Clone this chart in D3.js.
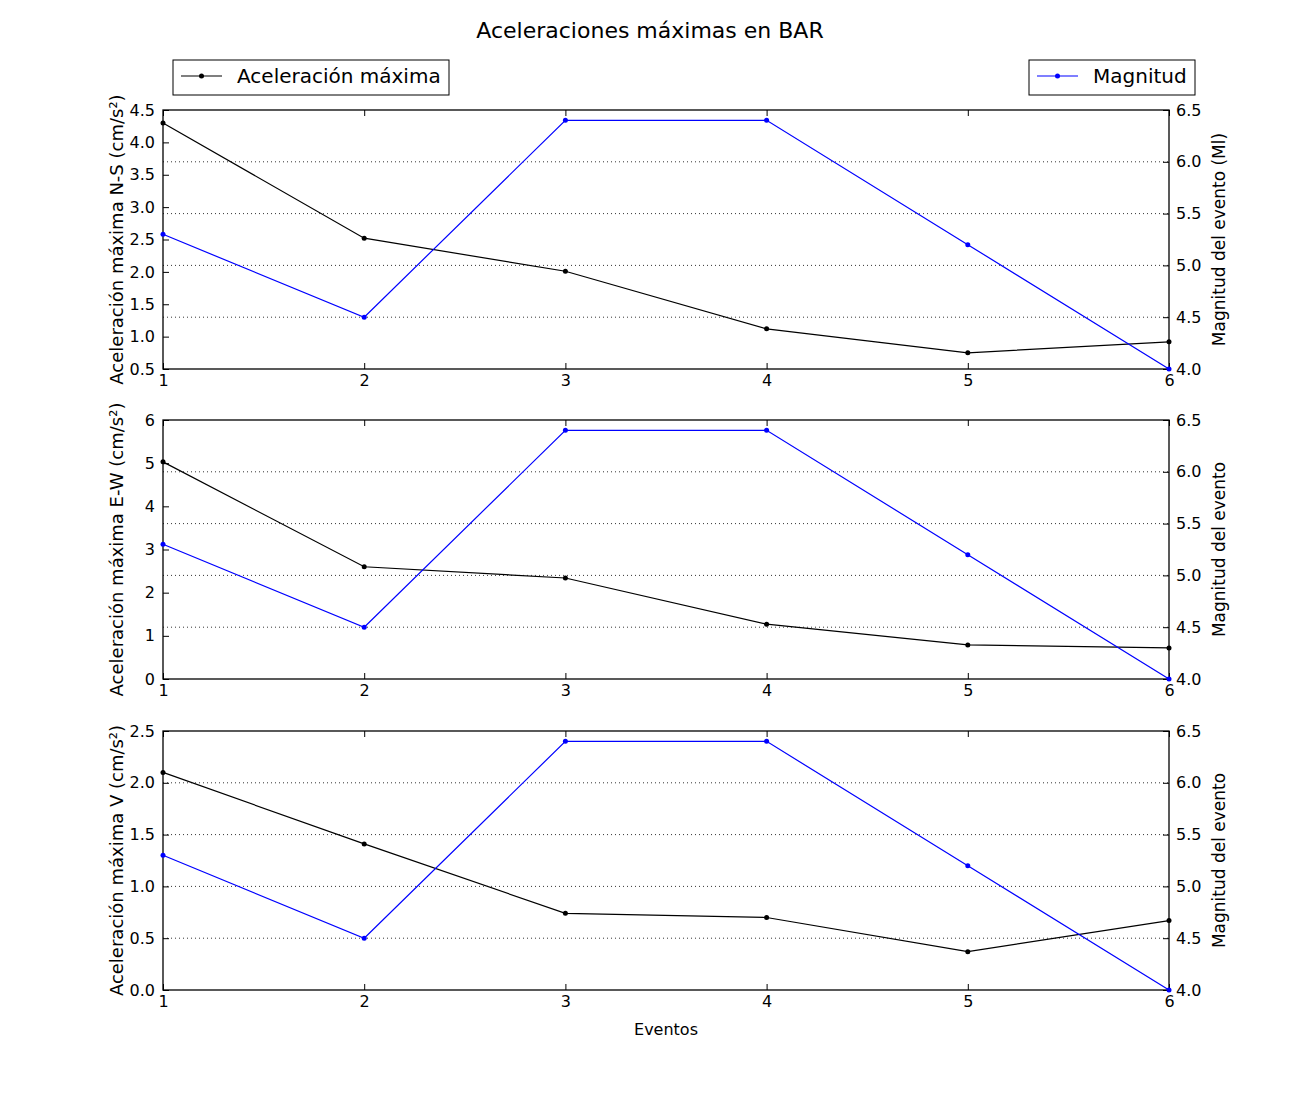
<!DOCTYPE html>
<html>
<head>
<meta charset="utf-8">
<script src="https://cdn.jsdelivr.net/npm/d3@7"></script>
<style>
  body { margin: 0; background: #fff; }
  text { font-family: "DejaVu Sans", sans-serif; fill: #000; }
</style>
</head>
<body>
<div id="chart"></div>
<script>
// datos
var eventos = [1, 2, 3, 4, 5, 6];
var magnitud = [5.3, 4.5, 6.4, 6.4, 5.2, 4.0];
var acelNS = [4.3, 2.52, 2.01, 1.12, 0.75, 0.92];
var acelEW = [5.03, 2.6, 2.34, 1.27, 0.79, 0.72];
var acelV = [2.1, 1.41, 0.74, 0.7, 0.37, 0.67];

var panelLabels = ["Aceleración máxima N-S (cm/s²)", "Aceleración máxima E-W (cm/s²)", "Aceleración máxima V (cm/s²)"];
var rightLabels = ["Magnitud del evento (Ml)", "Magnitud del evento", "Magnitud del evento"];
var leftDomains = [[0.5, 4.5], [0, 6], [0, 2.5]];
var leftTicks = [
    [0.5, 1.0, 1.5, 2.0, 2.5, 3.0, 3.5, 4.0, 4.5],
    [0, 1, 2, 3, 4, 5, 6],
    [0.0, 0.5, 1.0, 1.5, 2.0, 2.5]
];
var leftFormats = [".1f", "d", ".1f"];
var magTicks = [4.0, 4.5, 5.0, 5.5, 6.0, 6.5];
var series = [acelNS, acelEW, acelV];

var W = 1300, H = 1100;
var x0 = 163, x1 = 1169;
var panelTops = [110, 420, 731];
var panelH = 259;

var svg = d3.select("#chart").append("svg")
    .attr("width", W)
    .attr("height", H);

svg.append("text")
    .attr("x", 650)
    .attr("y", 38)
    .attr("text-anchor", "middle")
    .style("font-size", "22px")
    .text("Aceleraciones máximas en BAR");

var x = d3.scaleLinear().domain([1, 6]).range([x0, x1]);

function drawPanel(i) {
    var top = panelTops[i];
    var bottom = top + panelH;
    var yL = d3.scaleLinear().domain(leftDomains[i]).range([bottom, top]);
    var yR = d3.scaleLinear().domain([4.0, 6.5]).range([bottom, top]);
    var g = svg.append("g");

    // grilla punteada (eje derecho)
    g.selectAll(".grid")
        .data(magTicks.slice(1, -1))
        .enter().append("line")
        .attr("x1", x0).attr("x2", x1)
        .attr("y1", function(d) { return yR(d); })
        .attr("y2", function(d) { return yR(d); })
        .attr("stroke", "#000")
        .attr("stroke-width", 0.8)
        .attr("stroke-dasharray", "1,3");

    // ejes (ticks hacia adentro)
    var bottomAxis = d3.axisBottom(x).tickValues(eventos).tickFormat(d3.format("d"))
        .tickSizeInner(-6).tickSizeOuter(0).tickPadding(6);
    var topAxis = d3.axisTop(x).tickValues(eventos).tickFormat("")
        .tickSizeInner(-6).tickSizeOuter(0);
    var leftAxis = d3.axisLeft(yL).tickValues(leftTicks[i]).tickFormat(d3.format(leftFormats[i]))
        .tickSizeInner(-6).tickSizeOuter(0).tickPadding(8);
    var rightAxis = d3.axisRight(yR).tickValues(magTicks).tickFormat(d3.format(".1f"))
        .tickSizeInner(-6).tickSizeOuter(0).tickPadding(7);

    var gb = g.append("g").attr("transform", "translate(0," + bottom + ")").call(bottomAxis);
    var gt = g.append("g").attr("transform", "translate(0," + top + ")").call(topAxis);
    var gl = g.append("g").attr("transform", "translate(" + x0 + ",0)").call(leftAxis);
    var gr = g.append("g").attr("transform", "translate(" + x1 + ",0)").call(rightAxis);
    [gb, gt, gl, gr].forEach(function(a) {
        a.select(".domain").remove();
        a.selectAll("text").style("font-size", "16px").style("font-family", "DejaVu Sans, sans-serif").attr("fill", "#000");
        a.selectAll(".tick line").attr("stroke", "#000");
    });

    // marco
    g.append("rect")
        .attr("x", x0).attr("y", top)
        .attr("width", x1 - x0).attr("height", panelH)
        .attr("fill", "none")
        .attr("stroke", "#000")
        .attr("stroke-width", 1.3);

    // serie aceleración
    var lineL = d3.line().x(function(d, j) { return x(eventos[j]); }).y(function(d) { return yL(d); });
    g.append("path")
        .datum(series[i])
        .attr("d", lineL)
        .attr("fill", "none")
        .attr("stroke", "#000")
        .attr("stroke-width", 1.2);
    g.selectAll(".ptL")
        .data(series[i])
        .enter().append("circle")
        .attr("cx", function(d, j) { return x(eventos[j]); })
        .attr("cy", function(d) { return yL(d); })
        .attr("r", 2.5)
        .attr("fill", "#000");

    // serie magnitud
    var lineR = d3.line().x(function(d, j) { return x(eventos[j]); }).y(function(d) { return yR(d); });
    g.append("path")
        .datum(magnitud)
        .attr("d", lineR)
        .attr("fill", "none")
        .attr("stroke", "#0000ff")
        .attr("stroke-width", 1.2);
    g.selectAll(".ptR")
        .data(magnitud)
        .enter().append("circle")
        .attr("cx", function(d, j) { return x(eventos[j]); })
        .attr("cy", function(d) { return yR(d); })
        .attr("r", 2.5)
        .attr("fill", "#0000ff");

    // etiquetas
    var cy = top + panelH / 2;
    svg.append("text")
        .attr("transform", "translate(123," + cy + ") rotate(-90)")
        .attr("text-anchor", "middle")
        .style("font-size", "18px")
        .text(panelLabels[i]);
    svg.append("text")
        .attr("transform", "translate(1225," + cy + ") rotate(-90)")
        .attr("text-anchor", "middle")
        .style("font-size", "17px")
        .text(rightLabels[i]);
}

for (var i = 0; i < 3; i++) {
    drawPanel(i);
}

svg.append("text")
    .attr("x", 666)
    .attr("y", 1035)
    .attr("text-anchor", "middle")
    .style("font-size", "16px")
    .text("Eventos");

// leyendas
function drawLegend(lx, width, color, label) {
    var g = svg.append("g");
    g.append("rect")
        .attr("x", lx).attr("y", 60)
        .attr("width", width).attr("height", 35)
        .attr("fill", "#fff")
        .attr("stroke", "#000")
        .attr("stroke-width", 1);
    g.append("line")
        .attr("x1", lx + 8).attr("x2", lx + 49)
        .attr("y1", 76).attr("y2", 76)
        .attr("stroke", color)
        .attr("stroke-width", 1.2);
    g.append("circle")
        .attr("cx", lx + 28.5).attr("cy", 76)
        .attr("r", 2.5)
        .attr("fill", color);
    g.append("text")
        .attr("x", lx + 64).attr("y", 83)
        .style("font-size", "20px")
        .text(label);
}
drawLegend(173, 276, "#000", "Aceleración máxima");
drawLegend(1029, 166, "#0000ff", "Magnitud");
</script>
</body>
</html>
